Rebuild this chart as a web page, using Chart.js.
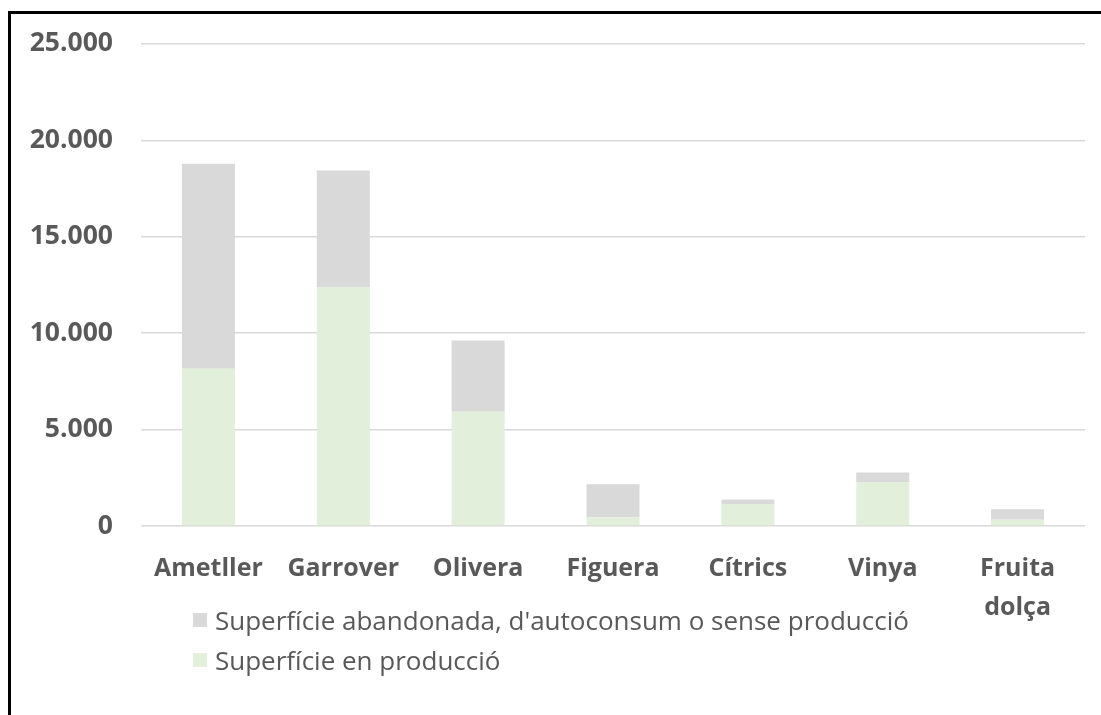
<!DOCTYPE html>
<html lang="ca">
<head>
<meta charset="utf-8">
<title>Superfície per cultiu</title>
<script src="https://cdn.jsdelivr.net/npm/chart.js@4.4.1/dist/chart.umd.min.js"></script>
<style>
    html, body { margin: 0; padding: 0; background: #fff; }
    #wrap { position: relative; width: 1101px; height: 715px; overflow: hidden; }
    #wrap canvas { position: absolute; left: 0; top: 0; }
    #frame {
        position: absolute; left: 8px; top: 11px; right: -10px; bottom: -10px;
        border-top: 3px solid #000; border-left: 3px solid #000;
        pointer-events: none;
    }
    #legend { position: absolute; left: 193px; top: 600px; font-family: "Open Sans", sans-serif; font-size: 26px; color: #595959; }
    .legend-item { display: flex; align-items: center; height: 40px; }
    .legend-box { width: 14px; height: 14px; margin-right: 8px; }
</style>
</head>
<body>
<div id="wrap">
    <canvas id="chart" width="1101" height="715"></canvas>
    <div id="frame"></div>
    <div id="legend"></div>
</div>
<script>
// --- Données ---
const categories = ['Ametller', 'Garrover', 'Olivera', 'Figuera', 'Cítrics', 'Vinya', ['Fruita', 'dolça']];
const superficieProduccio = [8160, 12370, 5920, 460, 1145, 2270, 320];
const superficieAbandonada = [10630, 6060, 3700, 1700, 225, 500, 550];
const yTicks = [0, 5000, 10000, 15000, 20000, 25000];

const textColor = '#595959';
const gridColor = '#d9d9d9';

function formatMiles(v) {
    return v.toLocaleString('de-DE'); // 25.000
}

const ctx = document.getElementById('chart').getContext('2d');
const chart = new Chart(ctx, {
    type: 'bar',
    data: {
        labels: categories,
        datasets: [
            { label: 'Superfície en producció', data: superficieProduccio, backgroundColor: '#e2efda' },
            { label: "Superfície abandonada, d'autoconsum o sense producció", data: superficieAbandonada, backgroundColor: '#d9d9d9' }
        ]
    },
    options: {
        responsive: false,
        animation: false,
        layout: { padding: { top: 39, right: 16, left: 0, bottom: 0 } },
        plugins: { legend: { display: false }, tooltip: { enabled: false } },
        datasets: { bar: { barPercentage: 0.393, categoryPercentage: 1 } },
        scales: {
            x: {
                stacked: true,
                grid: { display: false },
                border: { display: false },
                ticks: {
                    color: textColor, padding: 15, maxRotation: 0,
                    font: { family: 'Open Sans', size: 25, weight: 'bold', lineHeight: 1.58 }
                },
                afterFit: scale => { scale.height = 189; }
            },
            y: {
                stacked: true,
                min: 0, max: 25000,
                afterBuildTicks: scale => { scale.ticks = yTicks.map(v => ({ value: v })); },
                grid: { color: gridColor, lineWidth: 1.5, drawTicks: false },
                border: { display: false },
                ticks: {
                    color: textColor, padding: 28,
                    font: { family: 'Open Sans', size: 26.5, weight: 'bold' },
                    callback: v => formatMiles(v)
                },
                afterFit: scale => { scale.width = 141; }
            }
        }
    }
});

// Légende verticale (ordre inversé, comme dans l'original)
const legendDiv = document.getElementById('legend');
chart.data.datasets.slice().reverse().forEach(ds => {
    const item = document.createElement('div');
    item.className = 'legend-item';
    item.innerHTML = `<span class="legend-box" style="background:${ds.backgroundColor}"></span><span>${ds.label}</span>`;
    legendDiv.appendChild(item);
});
</script>
</body>
</html>
